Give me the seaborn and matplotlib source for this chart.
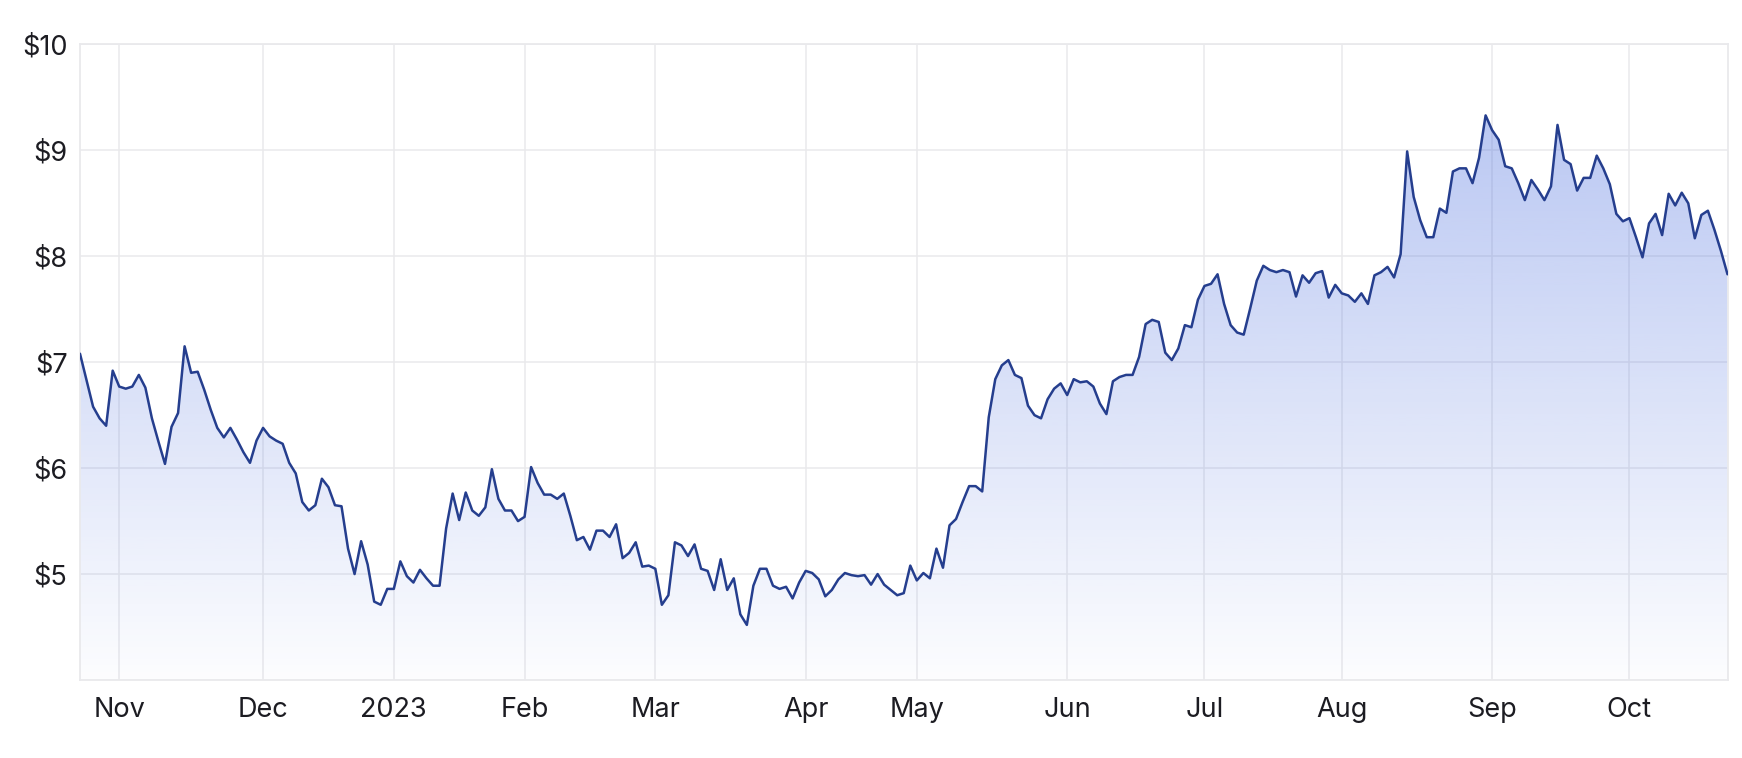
import numpy as np
import pandas as pd
import matplotlib
matplotlib.use("Agg")
import matplotlib.pyplot as plt
import seaborn as sns
from matplotlib.patches import Polygon

# ---- data (ASX trading days, 24 Oct 2022 – 23 Oct 2023) ----
start_date = "2022-10-24"
end_date = "2023-10-23"
holidays = ["2022-12-26", "2022-12-27", "2023-01-02", "2023-01-26",
            "2023-04-07", "2023-04-10", "2023-04-25", "2023-06-12"]

prices_q4_2022 = [7.08, 6.83, 6.58, 6.47, 6.40, 6.92, 6.77, 6.75, 6.77, 6.88,
                  6.76, 6.47, 6.25, 6.04, 6.39, 6.52, 7.15, 6.90, 6.91, 6.74,
                  6.55, 6.38, 6.29, 6.38, 6.27, 6.15, 6.05, 6.26, 6.38, 6.30,
                  6.26, 6.23, 6.05, 5.95, 5.68, 5.60, 5.65, 5.90, 5.82, 5.65,
                  5.64, 5.24, 5.00, 5.31, 5.09, 4.74, 4.71, 4.86]
prices_q1_2023 = [4.86, 5.12, 4.98, 4.92, 5.04, 4.96, 4.89, 4.89, 5.43, 5.76,
                  5.51, 5.77, 5.60, 5.55, 5.63, 5.99, 5.71, 5.60, 5.60, 5.50,
                  5.54, 6.01, 5.86, 5.75, 5.75, 5.71, 5.76, 5.55, 5.32, 5.35,
                  5.23, 5.41, 5.41, 5.35, 5.47, 5.15, 5.20, 5.30, 5.07, 5.08,
                  5.05, 4.71, 4.80, 5.30, 5.27, 5.17, 5.28, 5.05, 5.03, 4.85,
                  5.14, 4.85, 4.96, 4.62, 4.52, 4.89, 5.05, 5.05, 4.89, 4.86,
                  4.88, 4.77, 4.92]
prices_q2_2023 = [5.03, 5.01, 4.95, 4.79, 4.85, 4.95, 5.01, 4.99, 4.98, 4.99,
                  4.90, 5.00, 4.90, 4.85, 4.80, 4.82, 5.08, 4.94, 5.01, 4.96,
                  5.24, 5.06, 5.46, 5.52, 5.68, 5.83, 5.83, 5.78, 6.48, 6.84,
                  6.97, 7.02, 6.88, 6.85, 6.59, 6.50, 6.47, 6.65, 6.75, 6.80,
                  6.69, 6.84, 6.81, 6.82, 6.77, 6.61, 6.51, 6.82, 6.86, 6.88,
                  6.88, 7.05, 7.36, 7.40, 7.38, 7.09, 7.02, 7.13, 7.35, 7.33,
                  7.59]
prices_q3_2023 = [7.72, 7.74, 7.83, 7.55, 7.35, 7.28, 7.26, 7.51, 7.77, 7.91,
                  7.87, 7.85, 7.87, 7.85, 7.62, 7.82, 7.75, 7.84, 7.86, 7.61,
                  7.73, 7.65, 7.63, 7.57, 7.65, 7.55, 7.82, 7.85, 7.90, 7.80,
                  8.02, 8.99, 8.56, 8.34, 8.18, 8.18, 8.45, 8.41, 8.80, 8.83,
                  8.83, 8.69, 8.93, 9.33, 9.19, 9.10, 8.85, 8.83, 8.69, 8.53,
                  8.72, 8.63, 8.53, 8.66, 9.24, 8.91, 8.87, 8.62, 8.74, 8.74,
                  8.95, 8.83, 8.68, 8.40, 8.33]
prices_oct_2023 = [8.36, 8.18, 7.99, 8.31, 8.40, 8.20, 8.59, 8.48, 8.60, 8.50,
                   8.17, 8.39, 8.43, 8.25, 8.05, 7.83]

y_ticks = [5, 6, 7, 8, 9, 10]
y_min, y_max = 4, 10

# ---- build table ----
dates = pd.bdate_range(start_date, end_date)
dates = dates[~dates.isin(pd.to_datetime(holidays))]
prices = prices_q4_2022 + prices_q1_2023 + prices_q2_2023 + prices_q3_2023 + prices_oct_2023
df = pd.DataFrame({"date": dates[:len(prices)], "price": prices})
df["idx"] = np.arange(len(df))

month_start = df.index[df["date"].dt.month != df["date"].dt.month.shift(1)][1:]
tick_pos = df.loc[month_start, "idx"].tolist()
tick_lab = [d.strftime("%Y") if d.month == 1 else d.strftime("%b")
            for d in df.loc[month_start, "date"]]

# ---- style ----
sns.set_theme(style="white")
plt.rcParams["font.family"] = ["Inter", "DejaVu Sans"]

line_col = "#253e8e"
grid_col = "#e9e9ec"
text_col = "#1c1c22"

fig = plt.figure(figsize=(17.42, 7.58), dpi=100)
ax = fig.add_axes([80 / 1742, 1 - 680 / 758, (1727.5 - 80) / 1742, (680 - 44.4) / 758])

# gradient fill under the line
n = 256
alpha = np.linspace(0.015, 0.42, n)
rgba = np.zeros((n, 1, 4))
rgba[..., 0] = 72 / 255
rgba[..., 1] = 108 / 255
rgba[..., 2] = 222 / 255
rgba[:, 0, 3] = alpha
xmax = df["idx"].iloc[-1]
im = ax.imshow(rgba, extent=[0, xmax, y_min, y_max], origin="lower",
               aspect="auto", zorder=1, interpolation="bilinear")
verts = np.column_stack([np.r_[0, df["idx"].values, xmax],
                         np.r_[y_min, df["price"].values, y_min]])
clip = Polygon(verts, closed=True, transform=ax.transData, facecolor="none", edgecolor="none")
ax.add_patch(clip)
im.set_clip_path(clip)

sns.lineplot(data=df, x="idx", y="price", ax=ax, color=line_col, linewidth=1.8, zorder=3)

ax.set_xlim(0, xmax)
ax.set_ylim(y_min, y_max)
ax.set_xticks(tick_pos)
ax.set_xticklabels(tick_lab)
ax.set_yticks(y_ticks)
ax.set_yticklabels([f"${v}" for v in y_ticks])
ax.set_xlabel("")
ax.set_ylabel("")

ax.grid(True, color=grid_col, linewidth=1.1, zorder=0)
ax.set_axisbelow(True)
for s in ax.spines.values():
    s.set_color(grid_col)
    s.set_linewidth(1.3)

ax.tick_params(axis="both", length=0, labelsize=19.5, labelcolor=text_col)
ax.tick_params(axis="y", pad=9)
ax.tick_params(axis="x", pad=12)

fig.savefig("out.png", dpi=100)
